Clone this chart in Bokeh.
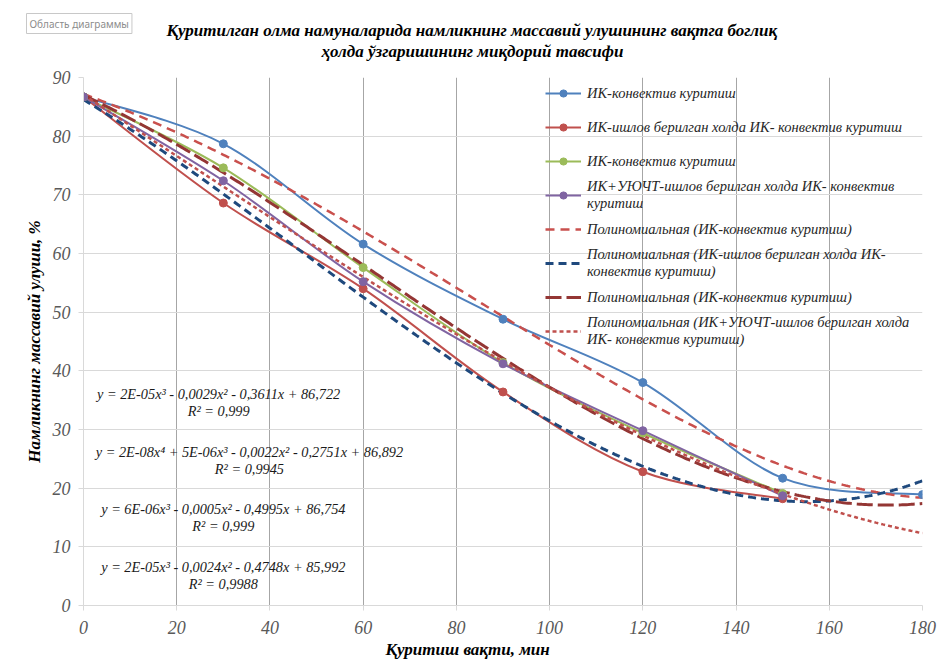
import numpy as np
from bokeh.plotting import figure
from bokeh.models import Legend, LegendItem, Range1d, FixedTicker, Title
from bokeh.core.properties import value
from bokeh.embed import file_html
from bokeh.resources import INLINE

# ---------------- data ----------------
time_min = [0, 30, 60, 90, 120, 150, 180]
ik_convective = [86.7, 78.7, 61.6, 48.8, 38.0, 21.7, 18.9]
ik_treated = [86.7, 68.6, 54.0, 36.4, 22.8, 18.2]
ik_convective_2 = [86.7, 74.6, 57.6, 41.4, 29.4, 19.1]
ik_uyucht = [86.7, 72.4, 55.2, 41.2, 29.8, 18.7]

series_names = [
    "ИК-конвектив куритиш",
    "ИК-ишлов берилган холда ИК- конвектив куритиш",
    "ИК-конвектив куритиш",
    "ИК+УЮЧТ-ишлов берилган холда ИК- конвектив\nкуритиш",
]
trend_names = [
    "Полиномиальная (ИК-конвектив куритиш)",
    "Полиномиальная (ИК-ишлов берилган холда ИК-\nконвектив куритиш)",
    "Полиномиальная (ИК-конвектив куритиш)",
    "Полиномиальная (ИК+УЮЧТ-ишлов берилган холда\nИК- конвектив куритиш)",
]
trend_degree = [4, 3, 3, 3]
trend_end = 180

equations = [
    "y = 2E-05x³ - 0,0029x² - 0,3611x + 86,722\nR² = 0,999",
    "y = 2E-08x⁴ + 5E-06x³ - 0,0022x² - 0,2751x + 86,892\nR² = 0,9945",
    "y = 6E-06x³ - 0,0005x² - 0,4995x + 86,754\nR² = 0,999",
    "y = 2E-05x³ - 0,0024x² - 0,4748x + 85,992\nR² = 0,9988",
]
x_ticks = [0, 20, 40, 60, 80, 100, 120, 140, 160, 180]
y_ticks = [0, 10, 20, 30, 40, 50, 60, 70, 80, 90]

title_line1 = "Қуритилган олма намуналарида намликнинг массавий улушининг вақтга боглиқ"
title_line2 = "ҳолда ўзгаришининг миқдорий тавсифи"
x_label = "Қуритиш вақти, мин"
y_label = "Намликнинг массавий улуши, %"
chart_tip = "Область диаграммы"

# ---------------- styles ----------------
series_colors = ["#4F81BD", "#C0504D", "#9BBB59", "#8064A2"]
trend_colors = ["#C9504D", "#1F497D", "#943634", "#C0504D"]
trend_dash = ["9 6", "8 5", "16 5", "4 3"]
trend_width = [2.5, 3, 3, 2.5]
eq_pos = [(29.0, 34.6), (35.6, 24.7), (30.0, 15.0), (30.0, 5.1)]
SERIF = "Liberation Serif"

p = figure(width=937, height=665, output_backend="svg", toolbar_location=None,
           x_range=Range1d(0, 180), y_range=Range1d(0, 90),
           min_border_left=83, min_border_right=15, min_border_top=77,
           min_border_bottom=60)
p.title = None
p.outline_line_color = None
p.background_fill_color = "white"
p.border_fill_color = "white"

t2 = Title(text=title_line2, align="left", offset=238, text_font=SERIF,
           text_font_style="bold italic", text_font_size="17px", text_color="black",
           standoff=34)
t1 = Title(text=title_line1, align="left", offset=83, text_font=SERIF,
           text_font_style="bold italic", text_font_size="17px", text_color="black",
           standoff=-34)
tip = Title(text=chart_tip, align="left", offset=-57, text_font="Noto Sans",
            text_font_style="normal", text_font_size="10px", text_color="#8c8c8c",
            border_line_color="#c8c8c8", background_fill_color="white",
            padding=3, standoff=-22)
p.add_layout(t2, "above")
p.add_layout(t1, "above")
p.add_layout(tip, "above")

for ax, ticks in ((p.xaxis[0], x_ticks), (p.yaxis[0], y_ticks)):
    ax.ticker = FixedTicker(ticks=ticks)
    ax.major_label_text_font = SERIF
    ax.major_label_text_font_style = "italic"
    ax.major_label_text_font_size = "18px"
    ax.major_label_text_color = "#595959"
    ax.axis_label_text_font = SERIF
    ax.axis_label_text_font_style = "bold italic"
    ax.axis_label_text_font_size = "17px"
    ax.axis_label_text_color = "black"
    ax.axis_line_color = "#d9d9d9"
    ax.major_tick_line_color = "#d9d9d9"
    ax.major_tick_out = 5
    ax.major_tick_in = 0
    ax.minor_tick_line_color = None
    ax.major_label_standoff = 8
p.xaxis.major_label_standoff = 10
p.yaxis.axis_label = y_label
p.yaxis.axis_label_standoff = 6

xt = Title(text=x_label, align="left", offset=302, text_font=SERIF,
           text_font_style="bold italic", text_font_size="17px", text_color="black",
           standoff=2)
p.add_layout(xt, "below")

p.xgrid.ticker = FixedTicker(ticks=x_ticks)
p.ygrid.ticker = FixedTicker(ticks=y_ticks)
p.xgrid.grid_line_color = "#a6a6a6"
p.ygrid.grid_line_color = "#d9d9d9"


def smooth_segments(xs, ys, t=1.0 / 6.0):
    xs = np.asarray(xs, float)
    ys = np.asarray(ys, float)
    n = len(xs)
    x0, y0, x1, y1, cx0, cy0, cx1, cy1 = ([] for _ in range(8))
    for i in range(n - 1):
        pxm = xs[max(i - 1, 0)]; pym = ys[max(i - 1, 0)]
        pxp = xs[min(i + 2, n - 1)]; pyp = ys[min(i + 2, n - 1)]
        x0.append(xs[i]); y0.append(ys[i]); x1.append(xs[i + 1]); y1.append(ys[i + 1])
        cx0.append(xs[i] + (xs[i + 1] - pxm) * t); cy0.append(ys[i] + (ys[i + 1] - pym) * t)
        cx1.append(xs[i + 1] - (pxp - xs[i]) * t); cy1.append(ys[i + 1] - (pyp - ys[i]) * t)
    return dict(x0=x0, y0=y0, x1=x1, y1=y1, cx0=cx0, cy0=cy0, cx1=cx1, cy1=cy1)


all_series = [ik_convective, ik_treated, ik_convective_2, ik_uyucht]
series_items = []
trend_items = []
for k, ys in enumerate(all_series):
    xs = time_min[:len(ys)]
    seg = smooth_segments(xs, ys)
    p.bezier(source=seg, x0="x0", y0="y0", x1="x1", y1="y1", cx0="cx0", cy0="cy0",
             cx1="cx1", cy1="cy1", line_color=series_colors[k], line_width=2)

for k, ys in enumerate(all_series):
    xs = time_min[:len(ys)]
    coef = np.polyfit(xs, ys, trend_degree[k])
    tx = np.linspace(0, trend_end, 361)
    ty = np.polyval(coef, tx)
    r = p.line(tx, ty, line_color=trend_colors[k], line_dash=trend_dash[k],
               line_width=trend_width[k])
    trend_items.append(LegendItem(label=trend_names[k], renderers=[r]))

for k, ys in enumerate(all_series):
    xs = time_min[:len(ys)]
    m = p.scatter(xs, ys, marker="circle", size=8, fill_color=series_colors[k],
                  line_color=series_colors[k])
    key_line = p.line([np.nan], [np.nan], line_color=series_colors[k], line_width=2)
    series_items.append(LegendItem(label=series_names[k], renderers=[key_line, m]))

p.text(x=[q[0] for q in eq_pos], y=[q[1] for q in eq_pos], text=equations,
       text_font=value(SERIF), text_font_style="italic", text_font_size="14.3px",
       text_color="#1a1a1a", text_align="center", text_baseline="middle",
       text_line_height=1.1)

legend = Legend(items=series_items + trend_items, location=(462, 257),
                label_text_font=SERIF, label_text_font_style="italic",
                label_text_font_size="14.5px", label_text_color="#262626",
                label_text_line_height=1.1,
                glyph_width=36, glyph_height=18, label_height=34, spacing=0,
                padding=3, margin=0, label_standoff=6,
                border_line_color=None, background_fill_alpha=0)
p.add_layout(legend)

open("out.html", "w").write(file_html(p, INLINE))
